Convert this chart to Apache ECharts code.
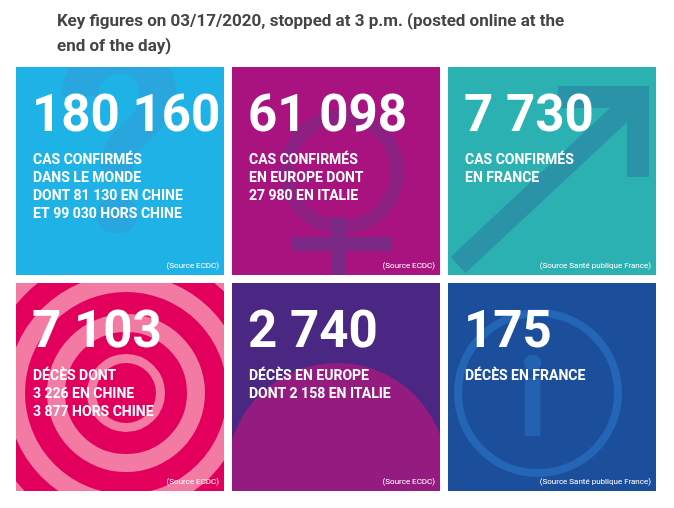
<!DOCTYPE html>
<html><head><meta charset="utf-8">
<script src="https://cdn.jsdelivr.net/npm/echarts@6/dist/echarts.min.js"></script>
<style>html,body{margin:0;background:#fff}#c{width:674px;height:508px}</style>
</head><body><div id="c"></div>
<script>
const figures = ['180 160', '61 098', '7 730', '7 103', '2 740', '175'];
const captions = [
  'CAS CONFIRMÉS\nDANS LE MONDE\nDONT 81 130 EN CHINE\nET 99 030 HORS CHINE',
  'CAS CONFIRMÉS\nEN EUROPE DONT\n27 980 EN ITALIE',
  'CAS CONFIRMÉS\nEN FRANCE',
  'DÉCÈS DONT\n3 226 EN CHINE\n3 877 HORS CHINE',
  'DÉCÈS EN EUROPE\nDONT 2 158 EN ITALIE',
  'DÉCÈS EN FRANCE'
];
const sources = ['(Source ECDC)', '(Source ECDC)', '(Source Santé publique France)',
  '(Source ECDC)', '(Source ECDC)', '(Source Santé publique France)'];
const cols = [0, 1, 2, 0, 1, 2];
const rows = [0, 0, 0, 1, 1, 1];
const tileColors = ['#1fb2e6', '#a8137f', '#2cb1b3', '#e3005c', '#4b2784', '#1b4f9c'];
const decoColors = ['#3d8fcf', '#7a2a86', '#2a93a8', '#f06b96', '#a11a7e', '#24428a'];

const chart = echarts.init(document.getElementById('c'));

function renderTile(params, api) {
  const i = params.dataIndex;
  const c = api.value(0), r = api.value(1);
  const p0 = api.coord([c, r]);
  const p1 = api.coord([c + 1, r + 1]);
  const gap = 8;
  const x = p0[0], y = p0[1];
  const w = p1[0] - p0[0] - gap, h = p1[1] - p0[1] - gap;
  const deco = [];
  const dc = decoColors[i];
  if (i === 0) {
    deco.push({type: 'text', style: {x: x + 40, y: y - 30, text: '?', font: 'bold 260px Roboto', fill: dc, opacity: 0.35}});
  } else if (i === 1) {
    deco.push({type: 'rect', shape: {x: x + 100, y: y + 150, width: 14, height: h - 150}, style: {fill: dc}});
    deco.push({type: 'rect', shape: {x: x + 60, y: y + 170, width: 100, height: 14}, style: {fill: dc}});
    deco.push({type: 'circle', shape: {cx: x + 110, cy: y + 105, r: 55}, style: {fill: 'none', stroke: dc, lineWidth: 14, opacity: 0.6}});
  } else if (i === 2) {
    deco.push({type: 'polyline', shape: {points: [[x + 10, y + h - 10], [x + 190, y + 30]]}, style: {stroke: dc, lineWidth: 22}});
    deco.push({type: 'polyline', shape: {points: [[x + 110, y + 30], [x + 190, y + 30], [x + 190, y + 110]]}, style: {stroke: dc, lineWidth: 22, fill: 'none'}});
  } else if (i === 3) {
    deco.push({type: 'rect', shape: {x: x, y: y, width: w, height: h}, style: {fill: '#f27aa3'}});
    [170, 130, 90, 50].forEach(function (rad) {
      deco.push({type: 'circle', shape: {cx: x + 110, cy: y + 110, r: rad}, style: {fill: 'none', stroke: tileColors[3], lineWidth: 22}});
    });
    deco.push({type: 'circle', shape: {cx: x + 110, cy: y + 110, r: 30}, style: {fill: tileColors[3]}});
  } else if (i === 4) {
    deco.push({type: 'circle', shape: {cx: x + 105, cy: y + 190, r: 110}, style: {fill: dc, opacity: 0.85}});
  } else {
    deco.push({type: 'circle', shape: {cx: x + 90, cy: y + 110, r: 80}, style: {fill: 'none', stroke: '#2a6fc0', lineWidth: 8, opacity: 0.7}});
    deco.push({type: 'text', style: {x: x + 70, y: y + 70, text: 'i', font: 'bold 110px Roboto', fill: '#2a6fc0', opacity: 0.6}});
  }
  return {
    type: 'group',
    children: [
      {type: 'rect', shape: {x: x, y: y, width: w, height: h}, style: {fill: tileColors[i]}},
      {type: 'group', clipPath: {type: 'rect', shape: {x: x, y: y, width: w, height: h}}, children: deco},
      {type: 'text', style: {x: x + 16, y: y + 26, text: figures[i], font: 'bold 51px Roboto', fill: '#fff'}},
      {type: 'text', style: {x: x + 17, y: y + 84, text: captions[i], font: 'bold 14px Roboto', lineHeight: 18, fill: '#fff'}},
      {type: 'text', style: {x: x + w - 5, y: y + h - 5, text: sources[i], font: '8px Roboto', fill: '#fff', align: 'right', verticalAlign: 'bottom'}}
    ]
  };
}

chart.setOption({
  animation: false,
  title: {
    text: 'Key figures on 03/17/2020, stopped at 3 p.m. (posted online at the\nend of the day)',
    left: 52, top: 4,
    textStyle: {fontFamily: 'Roboto', fontSize: 17, fontWeight: 'bold', color: '#444', lineHeight: 25}
  },
  grid: {left: 16, right: 10, top: 67, bottom: 9},
  xAxis: {type: 'value', min: 0, max: 3, show: false},
  yAxis: {type: 'value', min: 0, max: 2, inverse: true, show: false},
  series: [{
    type: 'custom',
    renderItem: renderTile,
    data: cols.map(function (c, i) { return [c, rows[i]]; })
  }]
});
</script>
</body></html>
